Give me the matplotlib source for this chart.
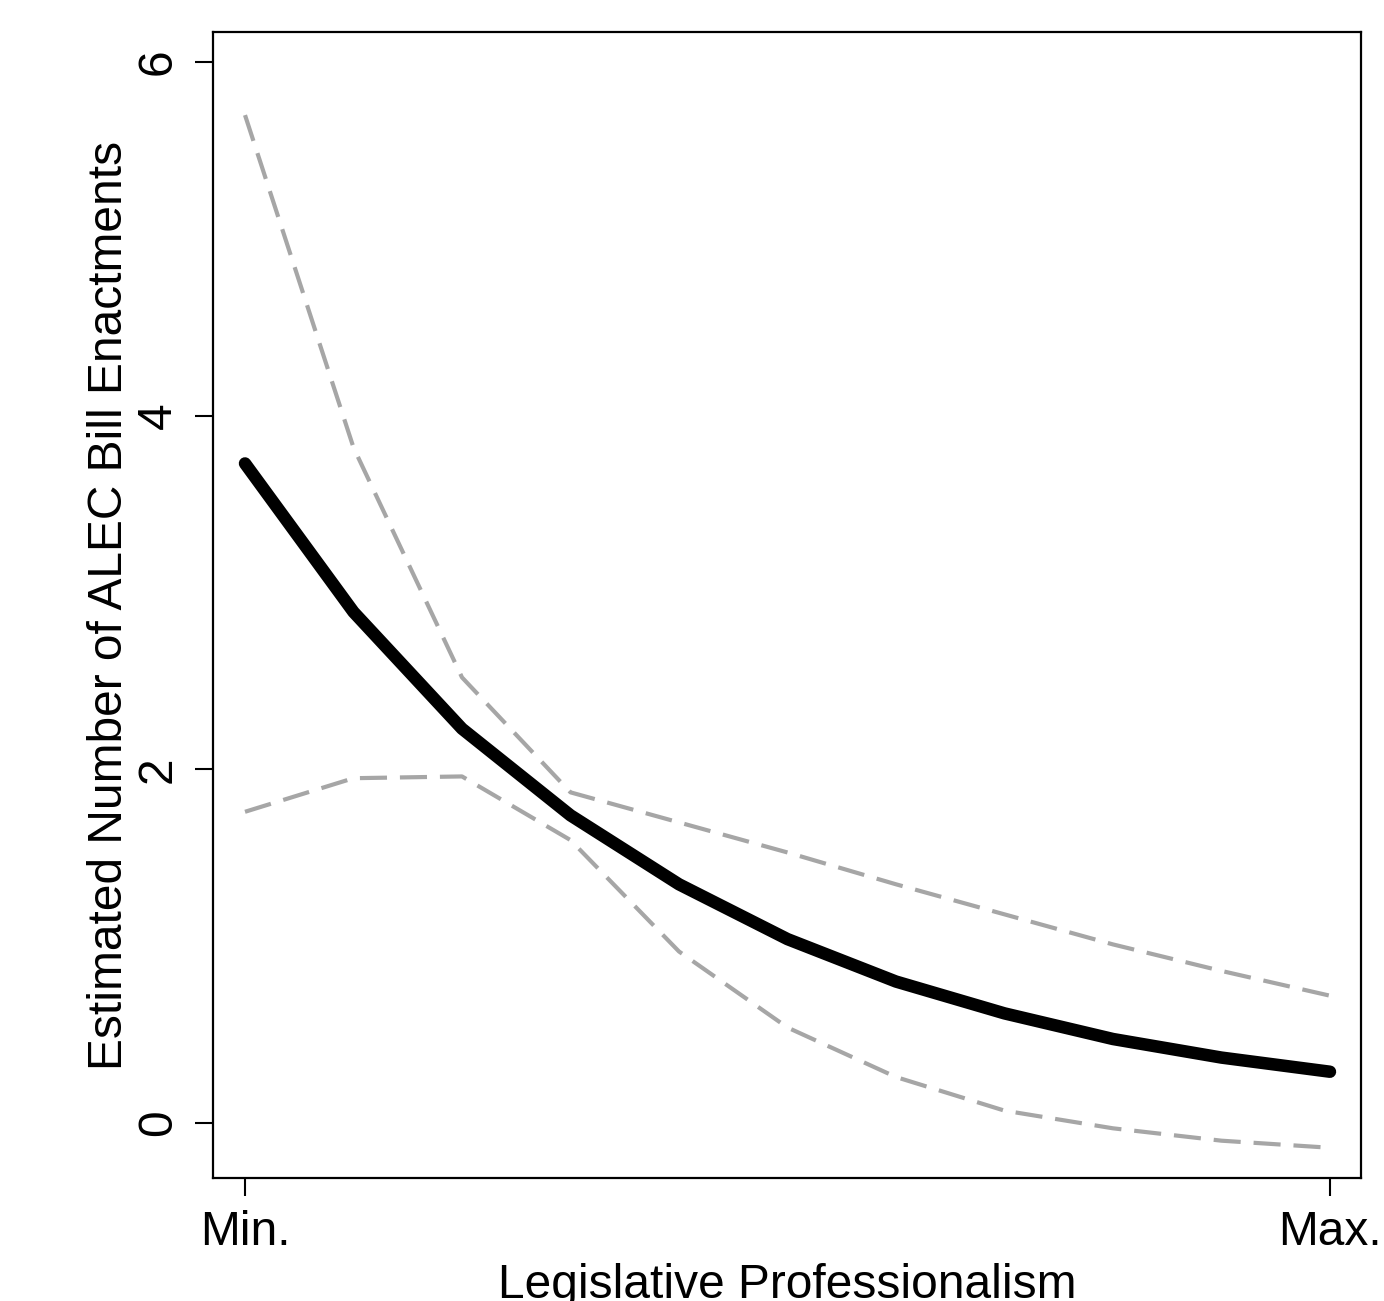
import matplotlib
matplotlib.use("Agg")
import matplotlib.pyplot as plt
import numpy as np

# Data (11 evenly spaced points from Min. to Max.)
positions = list(range(11))
estimate = [3.73, 2.89, 2.23, 1.74, 1.35, 1.04, 0.80, 0.62, 0.475, 0.37, 0.29]
upper_ci = [5.70, 3.82, 2.52, 1.87, 1.70, 1.53, 1.35, 1.18, 1.01, 0.86, 0.72]
lower_ci = [1.76, 1.95, 1.96, 1.60, 0.97, 0.54, 0.26, 0.07, -0.03, -0.10, -0.14]
y_ticks = [0, 2, 4, 6]
x_tick_pos = [0, 10]
x_tick_labels = ["Min.", "Max."]

plt.rcParams['font.family'] = ['Liberation Sans', 'DejaVu Sans']

fig = plt.figure(figsize=(13.84, 13.01), dpi=100)
ax = fig.add_axes([213/1384, 1 - 1178/1301, (1361-213)/1384, (1178-32)/1301])

ax.plot(positions, upper_ci, color='#a6a6a6', lw=3, linestyle=(0, (6.5, 3.1)))
ax.plot(positions, lower_ci, color='#a6a6a6', lw=3, linestyle=(0, (6.5, 3.1)))
ax.plot(positions, estimate, color='black', lw=9, solid_capstyle='round', solid_joinstyle='round')

ax.set_xlim(-0.295, 10.286)
ax.set_ylim(-0.311, 6.17)

fs = 34.5
ax.set_yticks(y_ticks)
ax.set_yticklabels([str(t) for t in y_ticks], rotation=90, va='center', fontsize=fs)
ax.set_xticks(x_tick_pos)
ax.set_xticklabels(x_tick_labels, fontsize=fs)
ax.tick_params(axis='both', direction='out', length=13, width=1.5, pad=10)

for s in ax.spines.values():
    s.set_linewidth(1.6)

ax.set_xlabel("Legislative Professionalism", fontsize=fs, labelpad=6)
ax.set_ylabel("Estimated Number of ALEC Bill Enactments", fontsize=fs, labelpad=3)

fig.savefig("out.png", dpi=100)
